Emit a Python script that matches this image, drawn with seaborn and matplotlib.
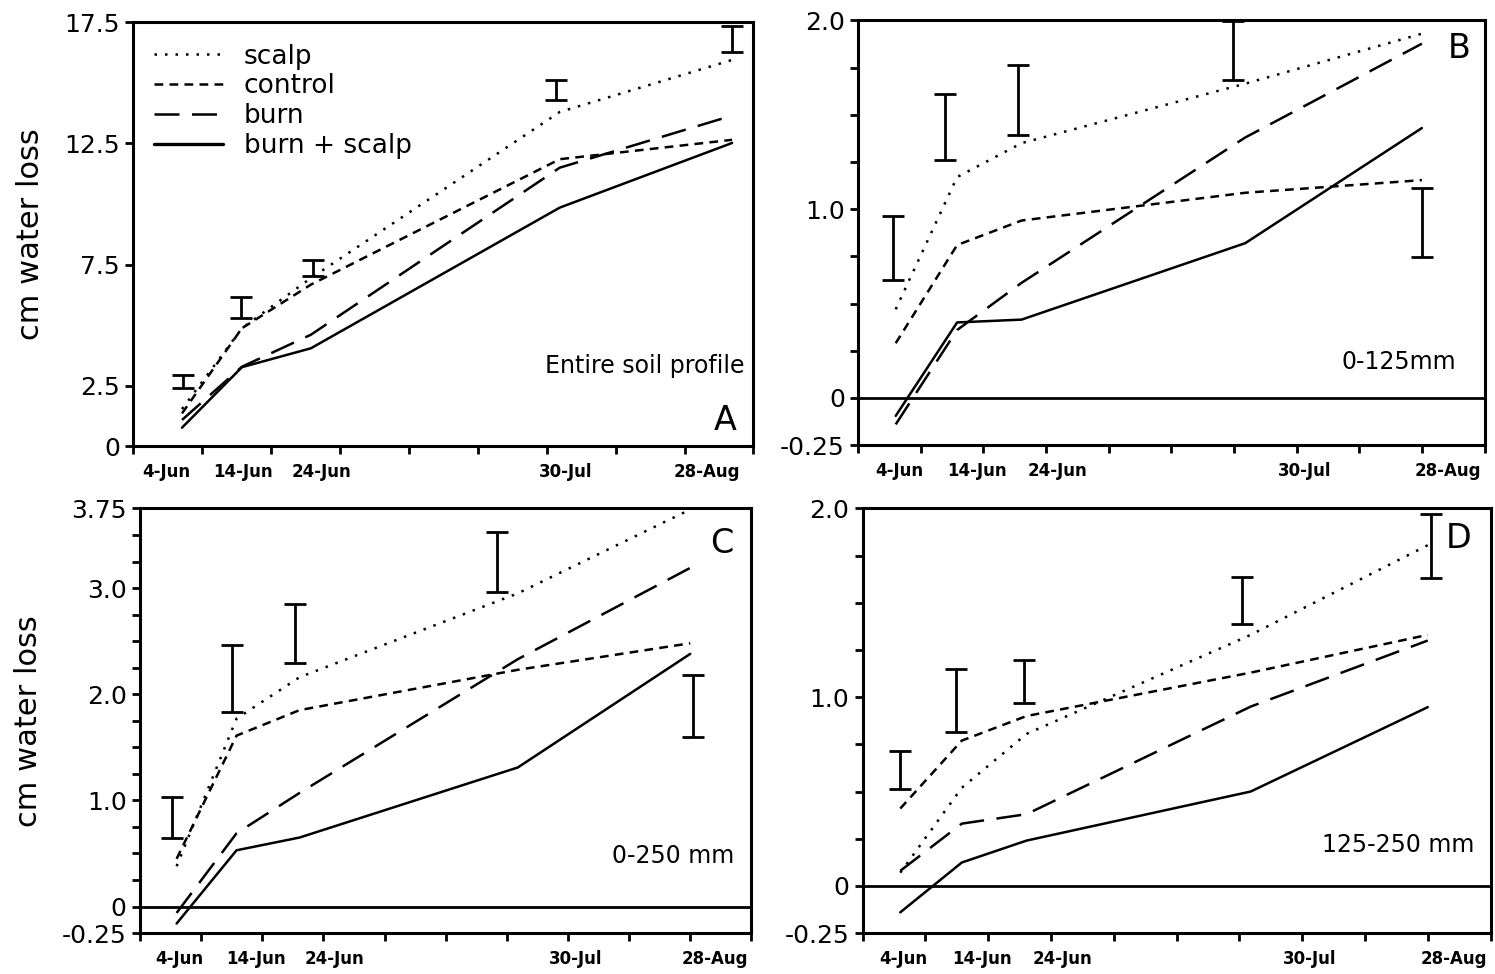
import matplotlib
matplotlib.use("Agg")
import matplotlib.pyplot as plt
import seaborn as sns
import pandas as pd
from matplotlib.lines import Line2D

# ---- data ----
treatments = ["scalp", "control", "burn", "burn + scalp"]
date_labels = ["4-Jun", "14-Jun", "24-Jun", "30-Jul", "28-Aug"]

# sample dates on each panel's x scale (one unit per tick)
x_a = [0.71, 1.58, 2.58, 6.19, 8.69]
x_bcd = [0.60, 1.58, 2.61, 6.18, 9.00]
label_x_a = [0.48, 1.59, 2.74, 6.28, 8.32]
label_x_bcd = [0.65, 1.90, 3.19, 7.12, 9.41]

# A: entire soil profile
a_scalp = [1.53, 4.87, 6.94, 13.80, 15.95]
a_control = [1.35, 4.87, 6.67, 11.85, 12.65]
a_burn = [1.08, 3.28, 4.60, 11.50, 13.65]
a_burn_scalp = [0.76, 3.26, 4.04, 9.85, 12.52]
a_err_x = [0.72, 1.56, 2.61, 6.14, 8.69]
a_err_lo = [2.39, 5.29, 7.01, 14.28, 16.26]
a_err_hi = [2.94, 6.14, 7.67, 15.13, 17.36]

# B: 0-125 mm
b_scalp = [0.47, 1.17, 1.35, 1.665, 1.93]
b_control = [0.29, 0.81, 0.94, 1.087, 1.154]
b_burn = [-0.14, 0.36, 0.61, 1.38, 1.877]
b_burn_scalp = [-0.095, 0.40, 0.415, 0.82, 1.43]
b_err_x = [0.56, 1.38, 2.55, 5.98, 9.00]
b_err_lo = [0.626, 1.263, 1.392, 1.683, 0.749]
b_err_hi = [0.964, 1.612, 1.762, 1.996, 1.110]

# C: 0-250 mm
c_scalp = [0.38, 1.77, 2.16, 2.95, 3.74]
c_control = [0.45, 1.61, 1.85, 2.23, 2.48]
c_burn = [-0.06, 0.69, 1.07, 2.33, 3.19]
c_burn_scalp = [-0.16, 0.53, 0.65, 1.31, 2.38]
c_err_x = [0.53, 1.51, 2.54, 5.84, 9.05]
c_err_lo = [0.65, 1.83, 2.29, 2.96, 1.60]
c_err_hi = [1.03, 2.46, 2.85, 3.53, 2.18]

# D: 125-250 mm
d_scalp = [0.07, 0.52, 0.805, 1.33, 1.805]
d_control = [0.41, 0.77, 0.90, 1.13, 1.33]
d_burn = [0.08, 0.33, 0.38, 0.95, 1.30]
d_burn_scalp = [-0.14, 0.124, 0.24, 0.50, 0.947]
d_err_x = [0.59, 1.49, 2.57, 6.04, 9.05]
d_err_lo = [0.513, 0.814, 0.968, 1.386, 1.634]
d_err_hi = [0.717, 1.150, 1.195, 1.637, 1.970]

sns.set_style("ticks")
plt.rcParams["font.family"] = ["DejaVu Sans"]
plt.rcParams["text.color"] = "black"
plt.rcParams["axes.labelcolor"] = "black"
plt.rcParams["xtick.color"] = "black"
plt.rcParams["ytick.color"] = "black"

dash_map = {"scalp": (1, 3.2), "control": (3.5, 2.5), "burn": (10, 5), "burn + scalp": ""}
LW = 1.8


def long_frame(x, values):
    rows = []
    for name, vals in zip(treatments, values):
        for xi, yi in zip(x, vals):
            rows.append({"x": xi, "loss": yi, "treatment": name})
    return pd.DataFrame(rows)


def draw_panel(ax, x, values, err_x, err_lo, err_hi, xmax, label_x,
               yticks, yticklabels, yminor, ylim, letter, letter_pos,
               region, region_pos, zero_line):
    df = long_frame(x, values)
    sns.lineplot(data=df, x="x", y="loss", style="treatment", dashes=dash_map,
                 color="black", linewidth=LW, legend=False, ax=ax, sort=False)
    mid = [(lo + hi) / 2 for lo, hi in zip(err_lo, err_hi)]
    half = [(hi - lo) / 2 for lo, hi in zip(err_lo, err_hi)]
    ax.errorbar(err_x, mid, yerr=half, fmt="none", ecolor="black",
                elinewidth=2, capsize=8, capthick=2)
    if zero_line:
        ax.axhline(0, color="black", linewidth=2)

    ax.set_xlim(0, xmax)
    ax.set_ylim(*ylim)
    ax.set_xticks(range(0, int(xmax) + 1))
    ax.set_xticklabels([])
    ax.set_xticks(label_x, minor=True)
    ax.set_xticklabels(date_labels, minor=True, fontsize=12, fontweight="bold")
    ax.tick_params(axis="x", which="major", direction="out", length=6, width=2)
    ax.tick_params(axis="x", which="minor", length=0, pad=12)

    ax.set_yticks(yticks)
    ax.set_yticklabels(yticklabels, fontsize=18)
    if yminor:
        ax.set_yticks(yminor, minor=True)
    ax.tick_params(axis="y", which="both", direction="out", length=6, width=2)

    for sp in ax.spines.values():
        sp.set_linewidth(2.2)
        sp.set_color("black")
    ax.set_xlabel("")
    ax.set_ylabel("")

    ax.text(letter_pos[0], letter_pos[1], letter, transform=ax.transAxes,
            fontsize=24, ha="center", va="center")
    ax.text(region_pos[0], region_pos[1], region, transform=ax.transAxes,
            fontsize=17, ha="right", va="center")


fig = plt.figure(figsize=(14.95, 9.74), dpi=100)
ax_a = fig.add_axes([0.089, 0.542, 0.415, 0.435])
ax_b = fig.add_axes([0.574, 0.543, 0.419, 0.436])
ax_c = fig.add_axes([0.0936, 0.042, 0.409, 0.436])
ax_d = fig.add_axes([0.577, 0.042, 0.420, 0.436])

quarter = [i * 0.25 for i in range(-1, 9)]

draw_panel(ax_a, x_a, [a_scalp, a_control, a_burn, a_burn_scalp],
           a_err_x, a_err_lo, a_err_hi, 9, label_x_a,
           [0, 2.5, 7.5, 12.5, 17.5], ["0", "2.5", "7.5", "12.5", "17.5"], None,
           (0, 17.5), "A", (0.955, 0.06), "Entire soil profile", (0.985, 0.19), False)

draw_panel(ax_b, x_bcd, [b_scalp, b_control, b_burn, b_burn_scalp],
           b_err_x, b_err_lo, b_err_hi, 10, label_x_bcd,
           [-0.25, 0, 1.0, 2.0], ["-0.25", "0", "1.0", "2.0"], quarter,
           (-0.25, 2.0), "B", (0.96, 0.934), "0-125mm", (0.955, 0.195), True)

draw_panel(ax_c, x_bcd, [c_scalp, c_control, c_burn, c_burn_scalp],
           c_err_x, c_err_lo, c_err_hi, 10, label_x_bcd,
           [-0.25, 0, 1.0, 2.0, 3.0, 3.75], ["-0.25", "0", "1.0", "2.0", "3.0", "3.75"],
           [i * 0.25 for i in range(-1, 16)],
           (-0.25, 3.75), "C", (0.951, 0.918), "0-250 mm", (0.972, 0.181), True)

draw_panel(ax_d, x_bcd, [d_scalp, d_control, d_burn, d_burn_scalp],
           d_err_x, d_err_lo, d_err_hi, 10, label_x_bcd,
           [-0.25, 0, 1.0, 2.0], ["-0.25", "0", "1.0", "2.0"], quarter,
           (-0.25, 2.0), "D", (0.95, 0.93), "125-250 mm", (0.975, 0.207), True)

for ax in (ax_a, ax_c):
    ax.set_ylabel("cm water loss", fontsize=22, labelpad=14)

handles = []
for name in treatments:
    h = Line2D([0], [0], color="black", linewidth=LW if name != "burn + scalp" else 2.4)
    if dash_map[name]:
        h.set_dashes(dash_map[name])
    handles.append(h)
ax_a.legend(handles, treatments, loc="upper left", bbox_to_anchor=(0.0, 1.0),
            frameon=False, fontsize=19, handlelength=2.6, handletextpad=0.8,
            labelspacing=0.15, borderaxespad=0.4)

fig.savefig("out.png", dpi=100)
